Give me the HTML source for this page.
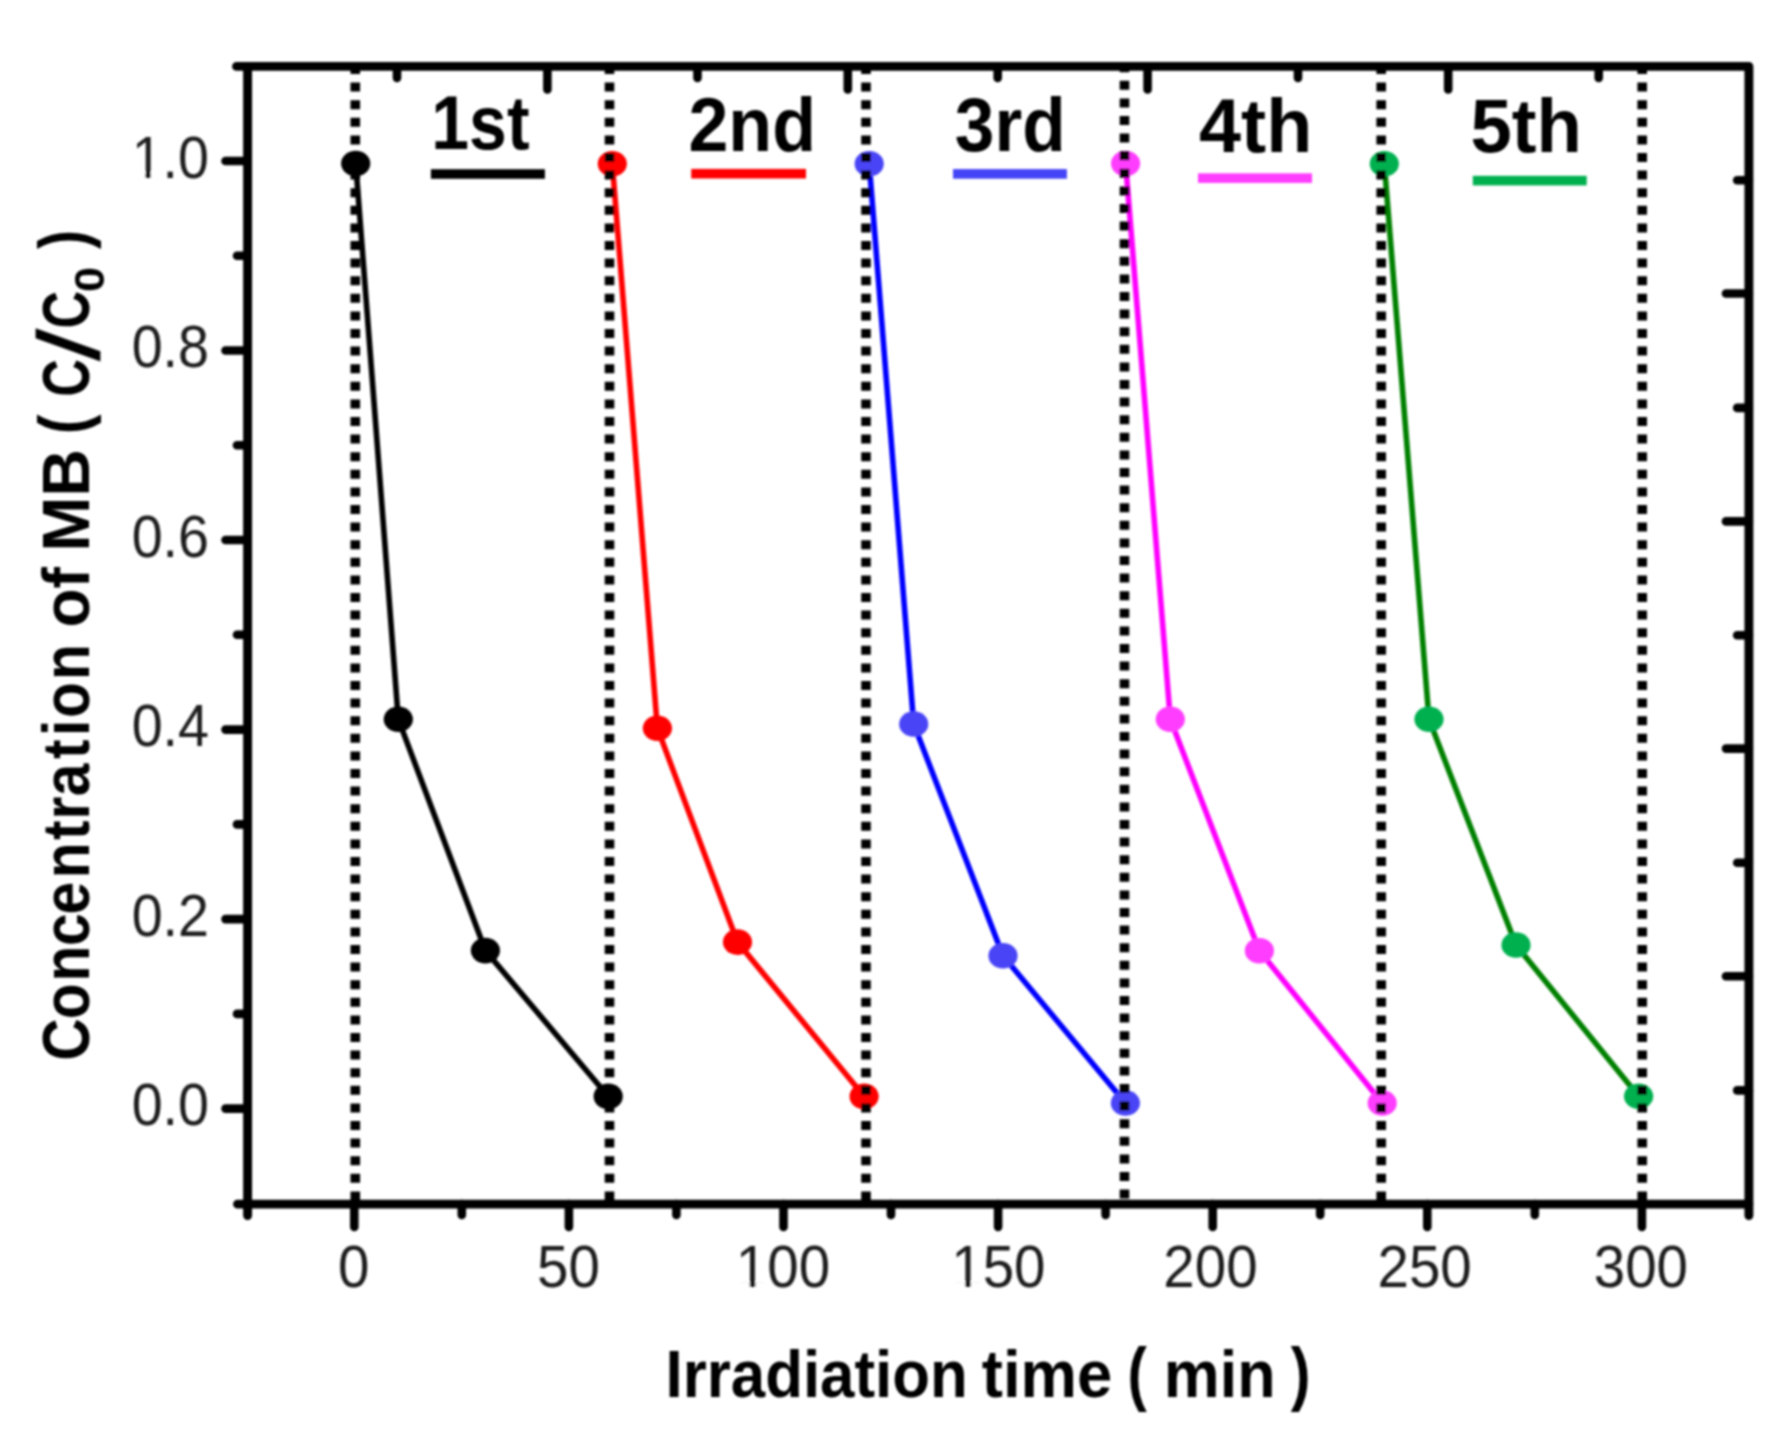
<!DOCTYPE html>
<html lang="en"><head><meta charset="utf-8"><title>Concentration of MB vs irradiation time</title>
<style>
html,body{margin:0;padding:0;background:#fff;}
body{width:1776px;height:1446px;overflow:hidden;}
svg{display:block;}
text{font-family:"Liberation Sans",sans-serif;fill:#000;}
.tl text{font-size:56.5px;fill:#1c1c1c;}
.lg{font-size:76px;font-weight:bold;}
.at{font-size:66px;font-weight:bold;}
.sub{font-size:43px;font-weight:bold;}
.sl{font-size:87px;font-weight:normal;stroke:#000;stroke-width:0.8px;}
</style></head><body>
<svg width="1776" height="1446" viewBox="0 0 1776 1446">
<rect width="1776" height="1446" fill="#fff"/>
<defs><filter id="soft" filterUnits="userSpaceOnUse" x="0" y="0" width="1776" height="1446"><feGaussianBlur stdDeviation="0.9"/></filter></defs>
<g filter="url(#soft)">
<g fill="none" stroke-width="5.6" stroke-linejoin="round" stroke-linecap="round">
<polyline stroke="#000000" points="355.7,163.5 398.3,719.2 485.4,950.6 608.2,1096.4"/>
<polyline stroke="#ff0000" points="612.3,163.7 657.4,728.3 737.5,942.1 864.1,1096.4"/>
<polyline stroke="#0000ff" points="869.2,163.7 913.7,724.0 1003.0,955.8 1125.4,1103.0"/>
<polyline stroke="#ff00ff" points="1125.6,163.5 1170.3,719.3 1259.4,950.7 1382.2,1103.0"/>
<polyline stroke="#008000" points="1384.3,163.7 1429.0,719.3 1516.0,945.0 1638.6,1096.3"/>
</g>
<g>
<ellipse cx="355.7" cy="163.5" rx="14.6" ry="12.8" fill="#000000"/>
<ellipse cx="398.3" cy="719.2" rx="14.6" ry="12.8" fill="#000000"/>
<ellipse cx="485.4" cy="950.6" rx="14.6" ry="12.8" fill="#000000"/>
<ellipse cx="608.2" cy="1096.4" rx="14.6" ry="12.8" fill="#000000"/>
<ellipse cx="612.3" cy="163.7" rx="14.6" ry="12.8" fill="#ff0000"/>
<ellipse cx="657.4" cy="728.3" rx="14.6" ry="12.8" fill="#ff0000"/>
<ellipse cx="737.5" cy="942.1" rx="14.6" ry="12.8" fill="#ff0000"/>
<ellipse cx="864.1" cy="1096.4" rx="14.6" ry="12.8" fill="#ff0000"/>
<ellipse cx="869.2" cy="163.7" rx="14.6" ry="12.8" fill="#4844f6"/>
<ellipse cx="913.7" cy="724.0" rx="14.6" ry="12.8" fill="#4844f6"/>
<ellipse cx="1003.0" cy="955.8" rx="14.6" ry="12.8" fill="#4844f6"/>
<ellipse cx="1125.4" cy="1103.0" rx="14.6" ry="12.8" fill="#4844f6"/>
<ellipse cx="1125.6" cy="163.5" rx="14.6" ry="12.8" fill="#ff3cff"/>
<ellipse cx="1170.3" cy="719.3" rx="14.6" ry="12.8" fill="#ff3cff"/>
<ellipse cx="1259.4" cy="950.7" rx="14.6" ry="12.8" fill="#ff3cff"/>
<ellipse cx="1382.2" cy="1103.0" rx="14.6" ry="12.8" fill="#ff3cff"/>
<ellipse cx="1384.3" cy="163.7" rx="14.6" ry="12.8" fill="#00b050"/>
<ellipse cx="1429.0" cy="719.3" rx="14.6" ry="12.8" fill="#00b050"/>
<ellipse cx="1516.0" cy="945.0" rx="14.6" ry="12.8" fill="#00b050"/>
<ellipse cx="1638.6" cy="1096.3" rx="14.6" ry="12.8" fill="#00b050"/>
</g>
<g stroke="#000" stroke-width="9.6" stroke-dasharray="9 8.6" fill="none">
<line x1="355.3" y1="65.0" x2="355.3" y2="1204.1"/>
<line x1="609.5" y1="65.0" x2="609.5" y2="1204.1"/>
<line x1="866.0" y1="65.0" x2="866.0" y2="1204.1"/>
<line x1="1124.5" y1="63.2" x2="1124.5" y2="1204.1"/>
<line x1="1381.2" y1="65.0" x2="1381.2" y2="1204.1"/>
<line x1="1642.2" y1="65.0" x2="1642.2" y2="1204.1"/>
</g>
<g stroke="#000" fill="none" stroke-linecap="round">
<path stroke-width="8.9" stroke-linejoin="round" d="M236.5 66.4 H1748.9 V1215.5"/>
<path stroke-width="8.9" stroke-linejoin="round" d="M247.6 66.4 V1215.5 M237.5 1204.1 H1748.9"/>
</g>
<g stroke="#000" stroke-width="8.6" stroke-linecap="round">
<line x1="225.5" y1="161.0" x2="247.6" y2="161.0"/>
<line x1="225.5" y1="350.5" x2="247.6" y2="350.5"/>
<line x1="225.5" y1="540.0" x2="247.6" y2="540.0"/>
<line x1="225.5" y1="729.6" x2="247.6" y2="729.6"/>
<line x1="225.5" y1="919.1" x2="247.6" y2="919.1"/>
<line x1="225.5" y1="1108.6" x2="247.6" y2="1108.6"/>
<line x1="237" y1="255.8" x2="247.6" y2="255.8"/>
<line x1="237" y1="445.3" x2="247.6" y2="445.3"/>
<line x1="237" y1="634.8" x2="247.6" y2="634.8"/>
<line x1="237" y1="824.4" x2="247.6" y2="824.4"/>
<line x1="237" y1="1013.9" x2="247.6" y2="1013.9"/>
<line x1="354.3" y1="1204.1" x2="354.3" y2="1227"/>
<line x1="568.9" y1="1204.1" x2="568.9" y2="1227"/>
<line x1="783.5" y1="1204.1" x2="783.5" y2="1227"/>
<line x1="998.1" y1="1204.1" x2="998.1" y2="1227"/>
<line x1="1212.7" y1="1204.1" x2="1212.7" y2="1227"/>
<line x1="1427.3" y1="1204.1" x2="1427.3" y2="1227"/>
<line x1="1641.9" y1="1204.1" x2="1641.9" y2="1227"/>
<line x1="461.8" y1="1204.1" x2="461.8" y2="1215"/>
<line x1="676.4" y1="1204.1" x2="676.4" y2="1215"/>
<line x1="891.0" y1="1204.1" x2="891.0" y2="1215"/>
<line x1="1105.6" y1="1204.1" x2="1105.6" y2="1215"/>
<line x1="1320.2" y1="1204.1" x2="1320.2" y2="1215"/>
<line x1="1534.8" y1="1204.1" x2="1534.8" y2="1215"/>
<line x1="397.0" y1="66.4" x2="397.0" y2="78"/>
<line x1="697.5" y1="66.4" x2="697.5" y2="78"/>
<line x1="997.7" y1="66.4" x2="997.7" y2="78"/>
<line x1="1298.0" y1="66.4" x2="1298.0" y2="78"/>
<line x1="1598.7" y1="66.4" x2="1598.7" y2="78"/>
<line x1="547.4" y1="66.4" x2="547.4" y2="89.5"/>
<line x1="847.8" y1="66.4" x2="847.8" y2="89.5"/>
<line x1="1147.6" y1="66.4" x2="1147.6" y2="89.5"/>
<line x1="1448.2" y1="66.4" x2="1448.2" y2="89.5"/>
<line x1="1737.2" y1="180.3" x2="1748.9" y2="180.3"/>
<line x1="1737.2" y1="407.9" x2="1748.9" y2="407.9"/>
<line x1="1737.2" y1="635.3" x2="1748.9" y2="635.3"/>
<line x1="1737.2" y1="862.7" x2="1748.9" y2="862.7"/>
<line x1="1737.2" y1="1090.4" x2="1748.9" y2="1090.4"/>
<line x1="1726" y1="293.5" x2="1748.9" y2="293.5"/>
<line x1="1726" y1="521.4" x2="1748.9" y2="521.4"/>
<line x1="1726" y1="748.6" x2="1748.9" y2="748.6"/>
<line x1="1726" y1="976.3" x2="1748.9" y2="976.3"/>
</g>
<g class="tl" text-anchor="end">
<text transform="translate(209 177.6) scale(0.985 1.04)">1.0</text>
<text transform="translate(209 367.1) scale(0.985 1.04)">0.8</text>
<text transform="translate(209 556.6) scale(0.985 1.04)">0.6</text>
<text transform="translate(209 746.2) scale(0.985 1.04)">0.4</text>
<text transform="translate(209 935.7) scale(0.985 1.04)">0.2</text>
<text transform="translate(209 1125.2) scale(0.985 1.04)">0.0</text>
</g>
<g class="tl" text-anchor="middle">
<text transform="translate(353.8 1287.3) scale(1 1.04)">0</text>
<text transform="translate(568.4 1287.3) scale(1 1.04)">50</text>
<text transform="translate(783.0 1287.3) scale(1 1.04)">100</text>
<text transform="translate(998.4 1287.3) scale(1 1.04)">150</text>
<text transform="translate(1210.5 1287.3) scale(1 1.04)">200</text>
<text transform="translate(1424.6 1287.3) scale(1 1.04)">250</text>
<text transform="translate(1640.9 1287.3) scale(1 1.04)">300</text>
</g>
<rect x="134.37" y="172.41" width="10.91" height="6.69" fill="#fff"/>
<rect x="150.90" y="172.41" width="10.82" height="6.69" fill="#fff"/>
<rect x="738.67" y="1282.11" width="11.05" height="6.69" fill="#fff"/>
<rect x="755.42" y="1282.11" width="10.96" height="6.69" fill="#fff"/>
<rect x="954.07" y="1282.11" width="11.05" height="6.69" fill="#fff"/>
<rect x="970.82" y="1282.11" width="10.96" height="6.69" fill="#fff"/>
<text class="lg" transform="translate(431.33 148.60) scale(0.8942 1.0000)">1st</text>
<rect x="430.9" y="169.2" width="114.0" height="9.6" fill="#000000"/>
<text class="lg" transform="translate(688.44 151.00) scale(0.9443 1.0000)">2nd</text>
<rect x="691.2" y="168.9" width="114.8" height="9.6" fill="#ff0000"/>
<text class="lg" transform="translate(954.83 151.40) scale(0.9372 1.0000)">3rd</text>
<rect x="953.0" y="169.1" width="113.9" height="9.6" fill="#4444f8"/>
<text class="lg" transform="translate(1199.01 151.80) scale(0.9935 1.0000)">4th</text>
<rect x="1198.0" y="173.3" width="114.0" height="9.6" fill="#ff3cff"/>
<text class="lg" transform="translate(1470.56 151.80) scale(0.9776 1.0000)">5th</text>
<rect x="1472.8" y="175.8" width="113.9" height="9.6" fill="#00b050"/>
<text class="at" transform="translate(665.49 1397.30) scale(0.9366 1.0000)">Irradiation</text>
<text class="at" transform="translate(981.84 1397.30) scale(0.9623 1.0000)">time</text>
<text class="at" transform="translate(1127.53 1397.30) scale(0.8778 1.0600)">(</text>
<text class="at" transform="translate(1163.81 1397.30) scale(0.9530 1.0000)">min</text>
<text class="at" transform="translate(1290.75 1397.30) scale(0.9000 1.0600)">)</text>
<text class="at" transform="translate(88.50 1056.20) rotate(-90) scale(0.8900 1)" x="-5.1 41.5 84.0 123.7 159.3 199.9 243.0 265.9 292.1 334.0 359.8 380.0 422.6">Concentration</text>
<text class="at" transform="translate(88.50 627.62) rotate(-90) scale(0.9700 1.0000)">of</text>
<text class="at" transform="translate(88.50 551.81) rotate(-90) scale(1.0032 1.0000)">MB</text>
<text class="at" transform="translate(88.50 396.68) rotate(-90) scale(0.7907 1.0000)">C</text>
<text class="at" transform="translate(88.50 328.57) rotate(-90) scale(0.7884 1.0000)">C</text>
<text class="at" transform="translate(87.40 434.35) rotate(-90) scale(0.9000 1.0400)">(</text>
<text class="at" transform="translate(87.40 249.03) rotate(-90) scale(0.8667 1.0400)">)</text>
<text class="sl" transform="translate(99.00 360.70) rotate(-90) scale(1.3167 1.0000)">/</text>
<text class="sub" transform="translate(104.00 291.98) rotate(-90) scale(1.0537 1.0000)">0</text>
</g>
</svg>
</body></html>
